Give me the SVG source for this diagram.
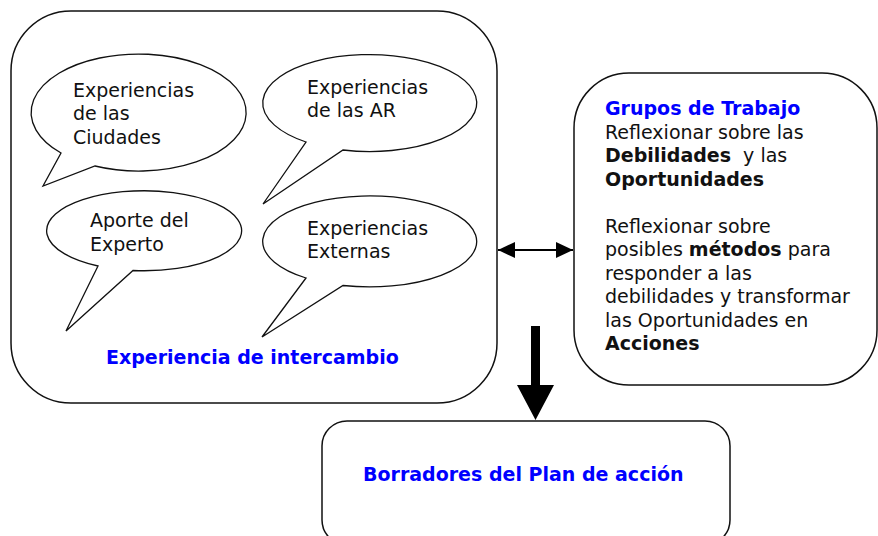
<svg xmlns="http://www.w3.org/2000/svg" width="878" height="536" viewBox="0 0 878 536">
<style>
.box{fill:#fff;stroke:#111;stroke-width:1.5}
.bub{fill:#fff;stroke:#111;stroke-width:1.3;stroke-linejoin:miter}
text{font-family:"DejaVu Sans",Verdana,sans-serif;font-size:19px;fill:#111;white-space:pre}
.b{font-weight:bold}
.blue{fill:#0000ff;font-weight:bold}
.con{stroke:#000;stroke-width:2;fill:none}
</style>
<defs>
<marker id="ah" viewBox="0 0 17 16" refX="17" refY="8" markerWidth="17" markerHeight="16" markerUnits="userSpaceOnUse" orient="auto-start-reverse">
<path d="M0,0 L17,8 L0,16 Z" fill="#000"/>
</marker>
</defs>
<rect width="878" height="536" fill="#fff"/>
<g id="intercambio">
<rect class="box" x="11" y="11" width="486" height="392" rx="60" ry="60"/>
<text class="blue" x="106" y="364">Experiencia de intercambio</text>
</g>
<g id="bubble-ciudades">
<path class="bub" d="M95,166 A107.5,58.5 0 1 0 61,153 L43,186 Z"/>
<text x="73" y="97">Experiencias</text>
<text x="73" y="120">de las</text>
<text x="73" y="144">Ciudades</text>
</g>
<g id="bubble-ar">
<path class="bub" d="M343,150 A107,48.5 0 1 0 306,142 L263,204 Z"/>
<text x="307" y="94">Experiencias</text>
<text x="307" y="117">de las AR</text>
</g>
<g id="bubble-experto">
<path class="bub" d="M133,270.5 A97.5,40 0 1 0 98,266 L66,331 Z"/>
<text x="90" y="227">Aporte del</text>
<text x="90" y="251">Experto</text>
</g>
<g id="bubble-externas">
<path class="bub" d="M343,285.5 A107,45.5 0 1 0 306,278 L262,337 Z"/>
<text x="307" y="235">Experiencias</text>
<text x="307" y="258">Externas</text>
</g>
<g id="grupos">
<rect class="box" x="574" y="73" width="303" height="312" rx="55" ry="55"/>
<text class="blue" x="605" y="115">Grupos de Trabajo</text>
<text x="605" y="138.5">Reflexionar sobre las</text>
<text x="605" y="162"><tspan class="b">Debilidades</tspan>  y las</text>
<text x="605" y="185.5" class="b">Oportunidades</text>
<text x="605" y="232.5">Reflexionar sobre</text>
<text x="605" y="256">posibles <tspan class="b">métodos</tspan> para</text>
<text x="605" y="279.5">responder a las</text>
<text x="605" y="303">debilidades y transformar</text>
<text x="605" y="326.5">las Oportunidades en</text>
<text x="605" y="350" class="b">Acciones</text>
</g>
<g id="borradores">
<rect class="box" x="322" y="421" width="408" height="124" rx="25" ry="25"/>
<text class="blue" x="363" y="481">Borradores del Plan de acción</text>
</g>
<g id="connectors">
<line class="con" x1="498" y1="250" x2="573" y2="250" marker-start="url(#ah)" marker-end="url(#ah)"/>
<path d="M531,326 L540,326 L540,385 L554,385 L535.5,420 L517,385 L531,385 Z" fill="#000"/>
</g>
</svg>
